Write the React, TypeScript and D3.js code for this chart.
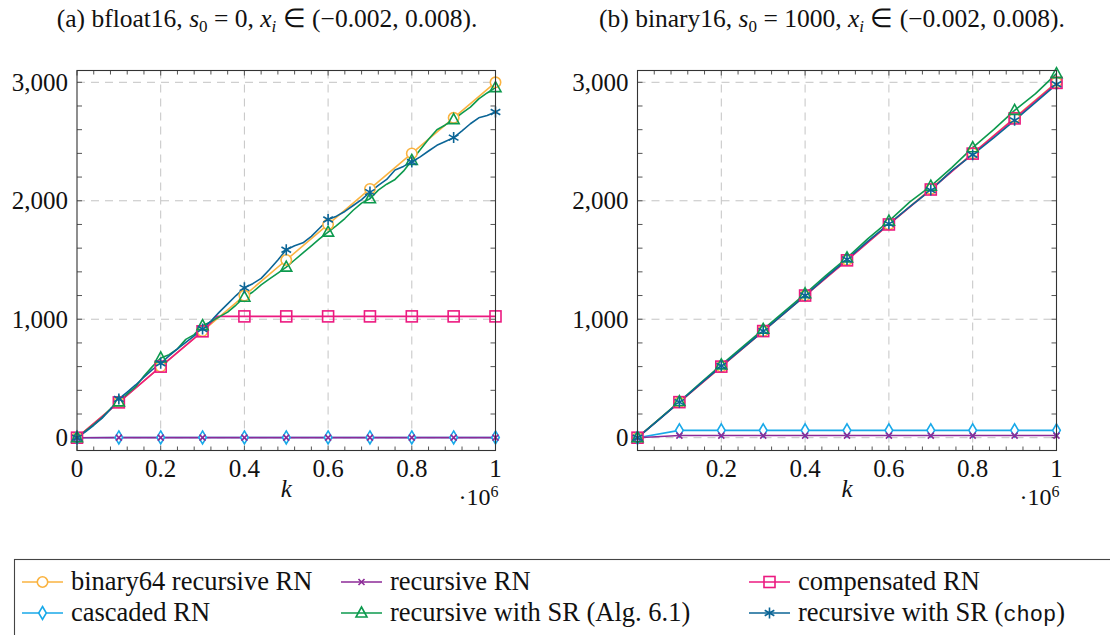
import React, { useEffect, useRef } from "react";
import * as d3 from "d3";

// sample positions (in units of 10^6)
const kMarks = [0, 0.1, 0.2, 0.3, 0.4, 0.5, 0.6, 0.7, 0.8, 0.9, 1];
const kFine = d3.range(0, 51).map((i) => i / 50); // step 0.02
const kMid = d3.range(0, 21).map((i) => i / 20); // step 0.05

// (a) bfloat16, s0 = 0
const aBinary64 = [0, 300, 600, 900, 1200, 1500, 1800, 2100, 2400, 2700, 3000];
const aRecursiveRN = [0, 1, 1, 1, 1, 1, 1, 1, 1, 1, 1];
const aCascadedRN = [0, 2, 2, 2, 2, 2, 2, 2, 2, 2, 2];
const aCompensatedK = [0, 0.1, 0.2, 0.3, 0.335, 0.4, 0.5, 0.6, 0.7, 0.8, 0.9, 1];
const aCompensatedRN = [0, 298, 600, 898, 1024, 1024, 1024, 1024, 1024, 1024, 1024, 1024];
const aSR = [
  0, 55, 110, 170, 245, 302, 370, 430, 520, 600,
  673, 700, 750, 830, 870, 946, 980, 1020, 1060, 1120,
  1186, 1230, 1290, 1340, 1390, 1440, 1500, 1560, 1620, 1680,
  1735, 1790, 1850, 1920, 1980, 2017, 2090, 2140, 2180, 2250,
  2340, 2430, 2520, 2600, 2640, 2685, 2740, 2790, 2860, 2910, 2955,
];
const aChop = [
  0, 50, 105, 165, 240, 327, 385, 445, 510, 575,
  628, 690, 750, 805, 860, 918, 985, 1060, 1130, 1200,
  1265, 1300, 1345, 1420, 1500, 1586, 1620, 1645, 1700, 1770,
  1842, 1870, 1910, 1960, 2010, 2073, 2130, 2180, 2260, 2290,
  2327, 2370, 2420, 2468, 2500, 2533, 2590, 2650, 2700, 2720, 2749,
];

// (b) binary16, s0 = 1000
const bBinary64 = [0, 300, 600, 900, 1200, 1500, 1800, 2100, 2400, 2700, 3000];
const bRecursiveRN = [0, 18, 18, 18, 18, 18, 18, 18, 18, 18, 18];
const bCascadedRN = [0, 62, 62, 62, 62, 62, 62, 62, 62, 62, 62];
const bCompensatedRN = [0, 300, 600, 900, 1200, 1497, 1800, 2095, 2398, 2695, 2995];
const bSR = [
  0, 152, 305, 460, 615, 765, 915, 1065, 1215, 1370,
  1518, 1680, 1828, 1990, 2124, 2280, 2448, 2600, 2763, 2905, 3073,
];
const bChop = [
  0, 148, 300, 455, 605, 752, 900, 1050, 1200, 1355,
  1505, 1660, 1805, 1950, 2090, 2255, 2389, 2530, 2679, 2830, 2983,
];

const yTicks = [0, 1000, 2000, 3000];
const yMinor = d3.range(0, 3001, 200);
const xMinor = d3.range(0, 26).map((i) => i * 0.04);

const names = [
  "binary64 recursive RN",
  "recursive RN",
  "compensated RN",
  "cascaded RN",
  "recursive with SR (Alg. 6.1)",
  "recursive with SR (chop)",
];
const colors = ["#fab340", "#8c2a97", "#ec1a80", "#18a9e9", "#0d9a4e", "#0b6596"];
const marks = ["circle", "cross", "square", "diamond", "triangle", "star"];

const FONT = "Liberation Serif";
const MONO = "Liberation Mono";

type Series = { k: number[]; v: number[] };

function drawMark(g: any, type: string, x: number, y: number, color: string) {
  const s = g.append("g").attr("transform", `translate(${x},${y})`);
  const st = (e: any) => e.attr("stroke", color).attr("stroke-width", 1.6);
  if (type === "circle") st(s.append("circle").attr("r", 5.2).attr("fill", "white"));
  if (type === "square") st(s.append("rect").attr("x", -5.5).attr("y", -5.5).attr("width", 11).attr("height", 11).attr("fill", "none"));
  if (type === "diamond") st(s.append("path").attr("d", "M0,-6.5L3.8,0L0,6.5L-3.8,0Z").attr("fill", "white"));
  if (type === "triangle") st(s.append("path").attr("d", "M0,-6L5.5,4L-5.5,4Z").attr("fill", "none"));
  if (type === "cross") st(s.append("path").attr("d", "M-3,-3L3,3M-3,3L3,-3").attr("fill", "none"));
  if (type === "star") st(s.append("path").attr("d", "M0,-5.5L0,5.5M-4.8,-2.75L4.8,2.75M-4.8,2.75L4.8,-2.75").attr("fill", "none"));
}

function txt(g: any, x: number, y: number, size: number, anchor = "start") {
  return g.append("text").attr("x", x).attr("y", y).attr("text-anchor", anchor)
    .style("font-family", FONT).style("font-size", `${size}px`).attr("fill", "#111");
}

function panel(svg: any, x0: number, x1: number, series: Series[], showZero: boolean, titleX: number, title: any[]) {
  const x = d3.scaleLinear().domain([0, 1]).range([x0, x1]);
  const y = d3.scaleLinear().domain([0, 3000]).range([437.7, 82.3]);
  const top = 70.5, bottom = 450.5;
  const g = svg.append("g");

  // grid
  [0.2, 0.4, 0.6, 0.8].forEach((t) =>
    g.append("line").attr("x1", x(t)).attr("x2", x(t)).attr("y1", top).attr("y2", bottom)
      .attr("stroke", "#c4c4c4").attr("stroke-dasharray", "8,6"));
  yTicks.forEach((t) =>
    g.append("line").attr("x1", x0).attr("x2", x1).attr("y1", y(t)).attr("y2", y(t))
      .attr("stroke", "#c4c4c4").attr("stroke-dasharray", "8,6"));

  // ticks (inward, all sides)
  xMinor.forEach((t, i) => {
    const len = i % 5 === 0 ? 5 : 4;
    g.append("line").attr("x1", x(t)).attr("x2", x(t)).attr("y1", bottom).attr("y2", bottom - len).attr("stroke", "#555");
    g.append("line").attr("x1", x(t)).attr("x2", x(t)).attr("y1", top).attr("y2", top + len).attr("stroke", "#555");
  });
  yMinor.forEach((t) => {
    g.append("line").attr("x1", x0).attr("x2", x0 + 5).attr("y1", y(t)).attr("y2", y(t)).attr("stroke", "#555");
    g.append("line").attr("x1", x1).attr("x2", x1 - 5).attr("y1", y(t)).attr("y2", y(t)).attr("stroke", "#555");
  });

  // series
  const line = d3.line<[number, number]>().x((d) => x(d[0])).y((d) => y(d[1]));
  const order = [0, 2, 3, 1, 4, 5];
  order.forEach((i) => {
    const s = series[i];
    const pts: [number, number][] = s.k.map((k, j) => [k, s.v[j]]);
    g.append("path").attr("d", line(pts)).attr("fill", "none").attr("stroke", colors[i])
      .attr("stroke-width", 1.6).attr("stroke-linejoin", "round");
  });
  order.forEach((i) => {
    const s = series[i];
    s.k.forEach((k, j) => {
      const isMark = Math.abs(k * 10 - Math.round(k * 10)) < 1e-6;
      if (isMark) drawMark(g, marks[i], x(k), y(s.v[j]), colors[i]);
    });
  });

  // frame
  g.append("rect").attr("x", x0).attr("y", top).attr("width", x1 - x0).attr("height", bottom - top)
    .attr("fill", "none").attr("stroke", "#333").attr("stroke-width", 1.1);

  // tick labels
  yTicks.forEach((t) => txt(g, x0 - 9, y(t) + 8.5, 25, "end").text(d3.format(",")(t)));
  (showZero ? [0, 0.2, 0.4, 0.6, 0.8, 1] : [0.2, 0.4, 0.6, 0.8, 1]).forEach((t) =>
    txt(g, x(t), 477, 25, "middle").text(String(t)));

  // axis label + scale
  txt(g, (x0 + x1) / 2, 497, 25, "middle").style("font-style", "italic").text("k");
  const sc = txt(g, x1 + 3, 505, 24, "end");
  sc.append("tspan").text("·10");
  sc.append("tspan").style("font-size", "16px").attr("dy", -8).text("6");

  // title
  const tt = txt(g, titleX, 27, 25.5, "middle");
  title.forEach((p: any) => {
    const ts = tt.append("tspan").text(p.t);
    if (p.i) ts.style("font-style", "italic");
    if (p.sub) ts.style("font-size", "17px").attr("dy", 5);
    if (p.up) ts.attr("dy", -5);
  });
}

export default function App() {
  const ref = useRef<SVGSVGElement>(null);

  useEffect(() => {
    const svg = d3.select(ref.current);
    svg.selectAll("*").remove();

    const left: Series[] = [
      { k: kMarks, v: aBinary64 },
      { k: kMarks, v: aRecursiveRN },
      { k: aCompensatedK, v: aCompensatedRN },
      { k: kMarks, v: aCascadedRN },
      { k: kFine, v: aSR },
      { k: kFine, v: aChop },
    ];
    const right: Series[] = [
      { k: kMarks, v: bBinary64 },
      { k: kMarks, v: bRecursiveRN },
      { k: kMarks, v: bCompensatedRN },
      { k: kMarks, v: bCascadedRN },
      { k: kMid, v: bSR },
      { k: kMid, v: bChop },
    ];

    panel(svg, 77, 495.5, left, true, 267, [
      { t: "(a) bfloat16, " }, { t: "s", i: true }, { t: "0", sub: true },
      { t: " = 0, ", up: true }, { t: "x", i: true }, { t: "i", i: true, sub: true },
      { t: " ∈ (−0.002, 0.008).", up: true },
    ]);
    panel(svg, 637.5, 1056.5, right, false, 832, [
      { t: "(b) binary16, " }, { t: "s", i: true }, { t: "0", sub: true },
      { t: " = 1000, ", up: true }, { t: "x", i: true }, { t: "i", i: true, sub: true },
      { t: " ∈ (−0.002, 0.008).", up: true },
    ]);

    // legend
    const lg = svg.append("g");
    lg.append("rect").attr("x", 14.5).attr("y", 559.5).attr("width", 1110).attr("height", 90)
      .attr("fill", "white").attr("stroke", "#444").attr("stroke-width", 1.1);
    const colX = [22, 341, 749];
    const rowY = [582, 613];
    names.forEach((n, i) => {
      const cx = colX[i % 3];
      const cy = rowY[Math.floor(i / 3)];
      lg.append("line").attr("x1", cx).attr("x2", cx + 41).attr("y1", cy).attr("y2", cy)
        .attr("stroke", colors[i]).attr("stroke-width", 1.6);
      drawMark(lg, marks[i], cx + 20.5, cy, colors[i]);
      const t = txt(lg, cx + 49, cy + 8, 26.5);
      if (n.endsWith("(chop)")) {
        t.append("tspan").text("recursive with SR (");
        t.append("tspan").style("font-family", MONO).style("font-size", "22px").text("chop");
        t.append("tspan").text(")");
      } else t.text(n);
    });
  }, []);

  return (
    <svg
      ref={ref}
      width={1110}
      height={635}
      style={{ position: "absolute", left: 0, top: 0, background: "white" }}
    />
  );
}
